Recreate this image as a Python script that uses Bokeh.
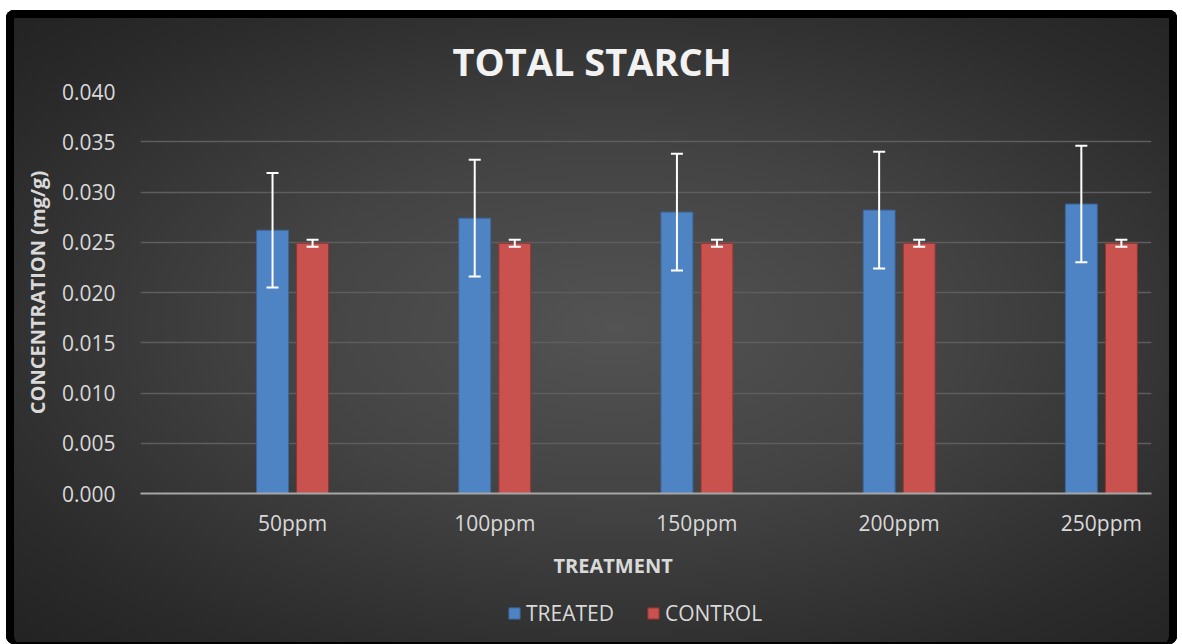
from bokeh.plotting import figure
from bokeh.models import (ColumnDataSource, Whisker, TeeHead, FixedTicker, Title,
                          Legend, LegendItem, Spacer)
from bokeh.layouts import column, row
from bokeh.embed import file_html
from bokeh.resources import INLINE

# ---- data ----
categories = ["50ppm", "100ppm", "150ppm", "200ppm", "250ppm"]
treated = [0.0262, 0.0274, 0.0280, 0.0282, 0.0288]
treated_err = [0.0057, 0.0058, 0.0058, 0.0058, 0.0058]
control = [0.0249, 0.0249, 0.0249, 0.0249, 0.0249]
control_err = [0.00035, 0.00035, 0.00035, 0.00035, 0.00035]
y_ticks = [0.000, 0.005, 0.010, 0.015, 0.020, 0.025, 0.030, 0.035, 0.040]
y_tick_labels = ["0.000", "0.005", "0.010", "0.015", "0.020", "0.025", "0.030", "0.035", "0.040"]
series_names = ["TREATED", "CONTROL"]

FONT = "Open Sans"
TXT = "#d9d9d9"
W = 1171
H_MAIN, H_LEG = 588, 46
BLUE, BLUE_EDGE = "#4f84c4", "#3a6597"
RED, RED_EDGE = "#c9514e", "#8e3533"

idx = list(range(len(categories)))
off = 0.099
bw = 0.158

src_t = ColumnDataSource(dict(
    x=[i - off for i in idx], top=treated,
    upper=[v + e for v, e in zip(treated, treated_err)],
    lower=[v - e for v, e in zip(treated, treated_err)]))
src_c = ColumnDataSource(dict(
    x=[i + off for i in idx], top=control,
    upper=[v + e for v, e in zip(control, control_err)],
    lower=[v - e for v, e in zip(control, control_err)]))

p = figure(width=W, height=H_MAIN, x_range=(-0.752, 4.248), y_range=(0, 0.040),
           output_backend="svg", toolbar_location=None,
           min_border_left=134, min_border_right=26, min_border_top=81, min_border_bottom=105)
p.background_fill_color = None
p.border_fill_color = None
p.outline_line_color = None

r_t = p.vbar(x="x", top="top", width=bw, bottom=0, source=src_t,
             fill_color=BLUE, line_color=BLUE_EDGE, line_width=1)
r_c = p.vbar(x="x", top="top", width=bw, bottom=0, source=src_c,
             fill_color=RED, line_color=RED_EDGE, line_width=1)

for src in (src_t, src_c):
    w = Whisker(base="x", upper="upper", lower="lower", source=src, level="annotation",
                line_color="white", line_width=2,
                upper_head=TeeHead(size=12, line_color="white", line_width=2),
                lower_head=TeeHead(size=12, line_color="white", line_width=2))
    p.add_layout(w)

# axes
p.xgrid.visible = False
p.ygrid.grid_line_color = "#5e5e5e"
p.ygrid.grid_line_width = 1.5

p.xaxis.ticker = FixedTicker(ticks=idx)
p.xaxis.major_label_overrides = {i: c for i, c in zip(idx, categories)}
p.xaxis.axis_line_color = "#a6a6a6"
p.xaxis.axis_line_width = 2
p.xaxis.major_tick_line_color = None
p.xaxis.minor_tick_line_color = None
p.xaxis.major_label_text_font = FONT
p.xaxis.major_label_text_font_size = "21px"
p.xaxis.major_label_text_color = TXT
p.xaxis.major_label_standoff = 9

p.yaxis.ticker = FixedTicker(ticks=y_ticks)
p.yaxis.major_label_overrides = {t: l for t, l in zip(y_ticks, y_tick_labels)}
p.yaxis.axis_line_color = None
p.yaxis.major_tick_line_color = None
p.yaxis.minor_tick_line_color = None
p.yaxis.major_label_text_font = FONT
p.yaxis.major_label_text_font_size = "21px"
p.yaxis.major_label_text_color = TXT
p.yaxis.major_label_standoff = 19
p.yaxis.axis_label = "CONCENTRATION (mg/g)"
p.yaxis.axis_label_text_font = FONT
p.yaxis.axis_label_text_font_style = "bold"
p.yaxis.axis_label_text_font_size = "20px"
p.yaxis.axis_label_text_color = TXT
p.yaxis.axis_label_standoff = 8

# chart title
p.title.text = "TOTAL STARCH"
p.title.align = "left"
p.title.offset = 312
p.title.standoff = 10
p.title.text_font = FONT
p.title.text_font_style = "bold"
p.title.text_font_size = "38px"
p.title.text_color = "#f2f2f2"

# x-axis title
p.add_layout(Title(text="TREATMENT", align="left", offset=413, standoff=21,
                   text_font=FONT, text_font_style="bold", text_font_size="20px",
                   text_color=TXT), "below")

# legend strip (proxy renderers with the same series styling, outside the view)
pl = figure(width=W, height=H_LEG, output_backend="svg", toolbar_location=None,
            x_range=(0, 1), y_range=(0, 1),
            x_axis_location=None, y_axis_location=None,
            min_border_left=0, min_border_right=0, min_border_top=0, min_border_bottom=0)
pl.background_fill_color = None
pl.border_fill_color = None
pl.outline_line_color = None
pl.grid.visible = False
lt = pl.vbar(x=[-10], top=[-10], bottom=[-10], width=bw, fill_color=BLUE, line_color=BLUE_EDGE)
lc = pl.vbar(x=[-10], top=[-10], bottom=[-10], width=bw, fill_color=RED, line_color=RED_EDGE)
legend = Legend(items=[LegendItem(label=series_names[0], renderers=[lt], index=0),
                       LegendItem(label=series_names[1], renderers=[lc], index=0)],
                orientation="horizontal", location=(367, 17),
                background_fill_alpha=0, border_line_color=None,
                label_text_font=FONT, label_text_font_size="21px", label_text_color=TXT,
                glyph_width=14, glyph_height=14, spacing=32, label_standoff=5,
                padding=0, margin=0)
pl.add_layout(legend)

chart = column(p, pl, spacing=0, styles={
    "background": "radial-gradient(ellipse farthest-corner at 52% 50%, #535353 0%, #434343 40%, #2b2b2b 80%, #222222 100%)",
    "box-shadow": "inset 8px 0 0 0 #000, inset -8px 0 0 0 #000, inset 0 8px 0 0 #000, inset 0 -2px 0 0 #000",
    "border-radius": "8px",
})

layout = column(Spacer(height=10), row(Spacer(width=6), chart))
open("out.html", "w").write(file_html(layout, INLINE))
